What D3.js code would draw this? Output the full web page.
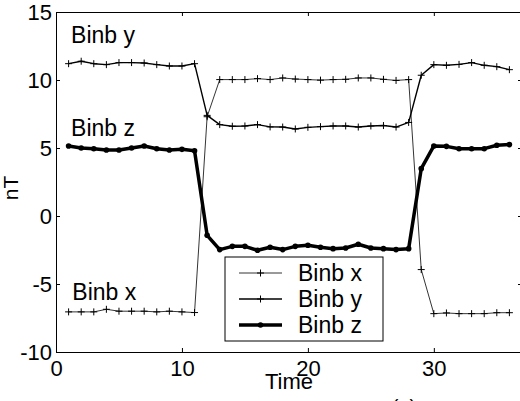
<!DOCTYPE html>
<html>
<head>
<meta charset="utf-8">
<script src="https://cdn.jsdelivr.net/npm/d3@7"></script>
<style>
  body { margin: 0; background: #fff; }
  svg { display: block; font-family: "Liberation Sans", Arial, sans-serif; }
</style>
</head>
<body>
<svg id="chart" width="520" height="401"></svg>
<script>
const time = [1, 2, 3, 4, 5, 6, 7, 8, 9, 10, 11, 12, 13, 14, 15, 16, 17, 18,
  19, 20, 21, 22, 23, 24, 25, 26, 27, 28, 29, 30, 31, 32, 33, 34, 35, 36]

const binbX = [-7.05, -7.05, -7.05, -6.86, -7.0, -7.0, -7.0, -7.05, -7.0, -7.05, -7.1,
  7.3,
  10.03, 10.03, 10.03, 10.1, 10.03, 10.15, 10.07, 10.03, 9.99, 10.03, 10.05, 10.15, 10.15, 10.05, 9.97, 10.03,
  -3.94,
  -7.18, -7.13, -7.18, -7.18, -7.18, -7.11, -7.11]

const binbY = [11.2, 11.38, 11.2, 11.13, 11.28, 11.28, 11.25, 11.13, 11.03, 11.03, 11.2,
  7.4,
  6.72, 6.6, 6.62, 6.72, 6.55, 6.54, 6.4, 6.52, 6.57, 6.62, 6.62, 6.54, 6.62, 6.65, 6.54, 6.88,
  10.35,
  11.13, 11.08, 11.15, 11.28, 11.08, 10.98, 10.76]

const binbZ = [5.15, 5.0, 4.95, 4.85, 4.85, 5.0, 5.15, 4.95, 4.85, 4.9, 4.8,
  -1.42,
  -2.47, -2.23, -2.23, -2.52, -2.3, -2.47, -2.23, -2.15, -2.3, -2.4, -2.35, -2.08, -2.35, -2.4, -2.47, -2.4,
  3.48,
  5.15, 5.12, 4.95, 4.95, 4.95, 5.2, 5.25]

const xTicks = [0, 10, 20, 30]
const yTicks = [-10, -5, 0, 5, 10, 15]

const series = [
  { name: 'Binb x', values: binbX, width: 0.8, marker: 'plus' },
  { name: 'Binb y', values: binbY, width: 1.4, marker: 'plus' },
  { name: 'Binb z', values: binbZ, width: 3.5, marker: 'dot' }
]

const margin = { top: 12, right: -2, bottom: 49, left: 56 }
const width = 520
const height = 401

const svg = d3.select('#chart')

const x = d3.scaleLinear().domain([0, 37]).range([margin.left, width - margin.right])
const y = d3.scaleLinear().domain([-10, 15]).range([height - margin.bottom, margin.top])

// plain hyphen for negatives, as in the original
const fmt = (d) => String(d)

// axes, ticks pointing inward like matlab
svg.append('g')
  .attr('transform', `translate(0, ${y(-10)})`)
  .call(d3.axisBottom(x).tickValues(xTicks).tickFormat(fmt).tickSizeInner(-4).tickSizeOuter(0).tickPadding(8))
svg.append('g')
  .attr('transform', `translate(0, ${y(15)})`)
  .call(d3.axisTop(x).tickValues(xTicks).tickFormat('').tickSizeInner(-4).tickSizeOuter(0))
svg.append('g')
  .attr('transform', `translate(${x(0)}, 0)`)
  .call(d3.axisLeft(y).tickValues(yTicks).tickFormat(fmt).tickSizeInner(-4).tickSizeOuter(0).tickPadding(4))
svg.append('g')
  .attr('transform', `translate(${x(37)}, 0)`)
  .call(d3.axisRight(y).tickValues(yTicks).tickFormat('').tickSizeInner(-4).tickSizeOuter(0))

svg.selectAll('.domain, .tick line').attr('stroke', '#000').attr('stroke-width', 1)
svg.selectAll('.tick text').attr('font-size', 22).attr('fill', '#000').attr('font-family', null)

const line = d3.line()
  .x((d, i) => x(time[i]))
  .y((d) => y(d))

const plusPath = (cx, cy, r) => `M${cx - r},${cy}H${cx + r}M${cx},${cy - r}V${cy + r}`

function drawMarkers(g, s, points) {
  if (s.marker === 'plus') {
    g.selectAll('path.m')
      .data(points)
      .join('path')
      .attr('class', 'm')
      .attr('d', (p) => plusPath(p[0], p[1], 3.5))
      .attr('stroke', '#000')
      .attr('stroke-width', 1)
  } else {
    g.selectAll('circle.m')
      .data(points)
      .join('circle')
      .attr('class', 'm')
      .attr('cx', (p) => p[0])
      .attr('cy', (p) => p[1])
      .attr('r', 2.8)
      .attr('fill', '#000')
  }
}

series.forEach((s) => {
  const g = svg.append('g')
  g.append('path')
    .attr('d', line(s.values))
    .attr('fill', 'none')
    .attr('stroke', '#000')
    .attr('stroke-width', s.width)
    .attr('stroke-linejoin', 'round')
  drawMarkers(g, s, s.values.map((v, i) => [x(time[i]), y(v)]))
})

// labels next to the curves
const notes = [
  { text: 'Binb y', tx: 1.2, ty: 12.7 },
  { text: 'Binb z', tx: 1.2, ty: 5.9 },
  { text: 'Binb x', tx: 1.3, ty: -6.2 }
]
svg.selectAll('text.note')
  .data(notes)
  .join('text')
  .attr('class', 'note')
  .attr('x', (d) => x(d.tx))
  .attr('y', (d) => y(d.ty))
  .attr('font-size', 23)
  .text((d) => d.text)

// legend
const legend = svg.append('g').attr('transform', 'translate(225, 257)')
legend.append('rect')
  .attr('width', 158)
  .attr('height', 84)
  .attr('fill', '#fff')
  .attr('stroke', '#000')
  .attr('stroke-width', 1)

series.forEach((s, i) => {
  const ly = 16 + i * 26
  const row = legend.append('g')
  row.append('line')
    .attr('x1', 14).attr('x2', 57)
    .attr('y1', ly).attr('y2', ly)
    .attr('stroke', '#000')
    .attr('stroke-width', s.width)
  drawMarkers(row, s, [[35.5, ly]])
  row.append('text')
    .attr('x', 73)
    .attr('y', ly + 8)
    .attr('font-size', 23)
    .text(s.name)
})

svg.append('text')
  .attr('x', 289)
  .attr('y', 389)
  .attr('text-anchor', 'middle')
  .attr('font-size', 22)
  .text('Time')

svg.append('text')
  .attr('transform', 'translate(18, 188) rotate(-90)')
  .attr('text-anchor', 'middle')
  .attr('font-size', 21)
  .text('nT')

// caption below, mostly cut off by the frame
svg.append('text')
  .attr('x', 404)
  .attr('y', 414)
  .attr('text-anchor', 'middle')
  .attr('font-size', 20)
  .text('(a)')
</script>
</body>
</html>
